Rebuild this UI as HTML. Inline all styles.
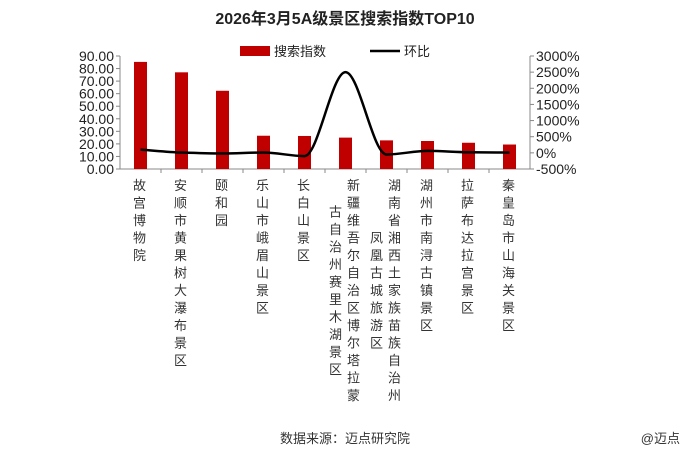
<!DOCTYPE html>
<html><head><meta charset="utf-8"><style>
body{margin:0;background:#fff;}
svg text{font-family:"Liberation Sans","Noto Sans CJK SC",sans-serif;}
</style></head><body>
<svg width="690" height="458" viewBox="0 0 690 458">
<text x="345" y="24" text-anchor="middle" font-size="16" font-weight="bold" fill="#222">2026年3月5A级景区搜索指数TOP10</text>
<g>
<rect x="240" y="46" width="30" height="10" fill="#c00000"/>
<text x="274" y="56" font-size="13" fill="#222">搜索指数</text>
<line x1="370" y1="51" x2="400" y2="51" stroke="#000" stroke-width="2.5"/>
<text x="404" y="56" font-size="13" fill="#222">环比</text>
</g>
<g id="plot"></g>
<text x="345" y="443" text-anchor="middle" font-size="13" fill="#333">数据来源：迈点研究院</text>
<text x="680" y="443" text-anchor="end" font-size="13" fill="#333">@迈点</text>
</svg>
<script>
const categories=["故宫博物院","安顺市黄果树大瀑布景区","颐和园","乐山市峨眉山景区","长白山景区","新疆维吾尔自治区博尔塔拉蒙古自治州赛里木湖景区","湖南省湘西土家族苗族自治州凤凰古城旅游区","湖州市南浔古镇景区","拉萨布达拉宫景区","秦皇岛市山海关景区"];
const searchIndex=[85.3,77.0,62.3,26.5,26.3,25.0,22.8,22.3,20.9,19.5];
const momChange=[100,10,-20,10,-100,2500,-50,60,20,10];
const leftTicks=[0,10,20,30,40,50,60,70,80,90];
const rightTicks=[-500,0,500,1000,1500,2000,2500,3000];
const NS="http://www.w3.org/2000/svg";
const g=document.getElementById('plot');
const X0=120,X1=530,Y0=169,Y1=56;
const yL=v=>Y0-(v/90)*(Y0-Y1);
const yR=v=>Y0-((v+500)/3500)*(Y0-Y1);
const bw=(X1-X0)/categories.length;
const xc=i=>X0+bw*(i+0.5);
function mk(t,a){const e=document.createElementNS(NS,t);for(const k in a)e.setAttribute(k,a[k]);g.appendChild(e);return e;}
let e;
e=mk('line',{x1:X0,y1:Y1,x2:X0,y2:Y0,stroke:'#888'});


e=mk('line',{x1:X1,y1:Y1,x2:X1,y2:Y0,stroke:'#888'});


e=mk('line',{x1:X0,y1:Y0,x2:X1,y2:Y0,stroke:'#888'});


leftTicks.forEach(v=>{
 e=mk('text',{x:X0-6,y:yL(v)+5,'text-anchor':'end','font-size':14,fill:'#222'});e.textContent=v.toFixed(2);
 
 
 mk('line',{x1:X0-4,y1:yL(v),x2:X0,y2:yL(v),stroke:'#888'});
});
rightTicks.forEach(v=>{
 e=mk('text',{x:X1+6,y:yR(v)+5,'font-size':14,fill:'#222'});e.textContent=v+'%';
 
 
 mk('line',{x1:X1,y1:yR(v),x2:X1+4,y2:yR(v),stroke:'#888'});
});
searchIndex.forEach((v,i)=>{
 e=mk('rect',{x:xc(i)-6.5,y:yL(v),width:13,height:Y0-yL(v),fill:'#c00000'});
 
 
 if(i>0)mk('line',{x1:X0+bw*i,y1:Y0,x2:X0+bw*i,y2:Y0+4,stroke:'#888'});
});
// monotone cubic (Fritsch-Carlson) to avoid overshoot
const pts=momChange.map((v,i)=>[xc(i),yR(v)]);
const n=pts.length,dx=bw;
const s=[];for(let i=0;i<n-1;i++)s.push((pts[i+1][1]-pts[i][1])/dx);
const m=[s[0]];
for(let i=1;i<n-1;i++){m.push(s[i-1]*s[i]<=0?0:2/(1/s[i-1]+1/s[i]));}
m.push(s[n-2]);
let d='M'+pts[0][0]+','+pts[0][1];
for(let i=0;i<n-1;i++){
 const p1=pts[i],p2=pts[i+1];
 d+=` C${p1[0]+dx/3},${p1[1]+m[i]*dx/3} ${p2[0]-dx/3},${p2[1]-m[i+1]*dx/3} ${p2[0]},${p2[1]}`;
}
e=mk('path',{d:d,fill:'none',stroke:'#000','stroke-width':2.5});


// vertical labels
const LH=17.5,TOP=190;
function col(str,x,y0){[...str].forEach((c,k)=>{e=mk('text',{x:x,y:y0+k*LH,'text-anchor':'middle','font-size':13,fill:'#333'});e.textContent=c;
 
 });}
categories.forEach((s,i)=>{
 const x=xc(i)-1;
 if(s.length>13){
  const a=s.slice(0,13),b=s.slice(13);
  col(a,x+9,TOP);
  col(b,x-9,TOP+((a.length-b.length)/2)*LH);
 }else col(s,x,TOP);
});
</script>
</body></html>
